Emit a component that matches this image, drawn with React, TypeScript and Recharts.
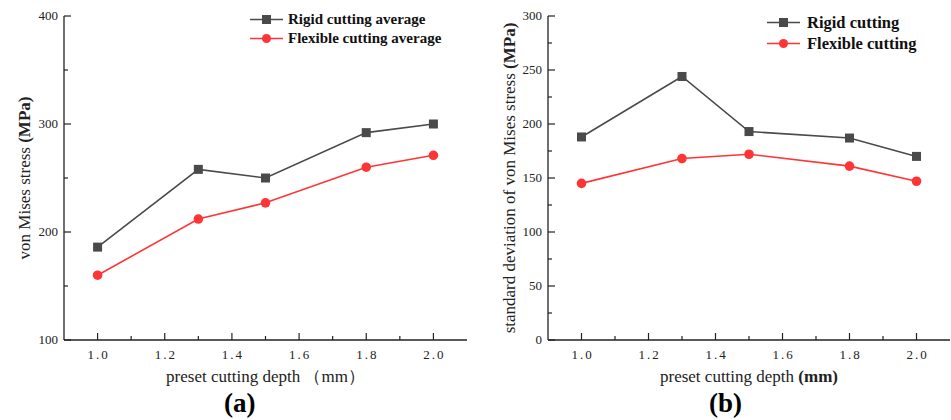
import React from "react";
import { LineChart, Line, XAxis, YAxis, Label } from "recharts";

const depths = [1.0, 1.3, 1.5, 1.8, 2.0];
const rigidAverage = [186, 258, 250, 292, 300];
const flexibleAverage = [160, 212, 227, 260, 271];
const rigidStd = [188, 244, 193, 187, 170];
const flexibleStd = [145, 168, 172, 161, 147];

const xTicks = [1.0, 1.1, 1.2, 1.3, 1.4, 1.5, 1.6, 1.7, 1.8, 1.9, 2.0];
const xMajor = [1.0, 1.2, 1.4, 1.6, 1.8, 2.0];
const yTicksA = [100, 150, 200, 250, 300, 350, 400];
const yMajorA = [100, 200, 300, 400];
const yTicksB = [0, 25, 50, 75, 100, 125, 150, 175, 200, 225, 250, 275, 300];
const yMajorB = [0, 50, 100, 150, 200, 250, 300];

const RIGID = "#4a4a4a";
const FLEX = "#ff3535";
const AXIS = "#222";
const FONT = "'Liberation Serif', 'DejaVu Serif', serif";

const dataA = depths.map((d, i) => ({ depth: d, rigid: rigidAverage[i], flexible: flexibleAverage[i] }));
const dataB = depths.map((d, i) => ({ depth: d, rigid: rigidStd[i], flexible: flexibleStd[i] }));

const isIn = (list: number[], v: number) => list.some((m) => Math.abs(m - v) < 1e-6);

const makeXTick = () => (props: any) => {
  const { x, y, payload } = props;
  const major = isIn(xMajor, payload.value);
  return (
    <g>
      <line x1={x} x2={x} y1={y} y2={y - (major ? 7 : 4)} stroke={AXIS} strokeWidth={1.2} />
      {major && (
        <text x={x + 1} y={y + 19} textAnchor="middle" fontFamily={FONT} fontSize={13} fill="#222" letterSpacing={2}>
          {payload.value.toFixed(1)}
        </text>
      )}
    </g>
  );
};

const makeYTick = (majors: number[]) => (props: any) => {
  const { x, y, payload } = props;
  const major = isIn(majors, payload.value);
  return (
    <g>
      <line x1={x} x2={x + (major ? 7 : 4)} y1={y} y2={y} stroke={AXIS} strokeWidth={1.2} />
      {major && (
        <text x={x - 6} y={y + 4} textAnchor="end" fontFamily={FONT} fontSize={13} fill="#222">
          {payload.value}
        </text>
      )}
    </g>
  );
};

const squareDot = (props: any) => {
  const { cx, cy, key } = props;
  return <rect key={key} x={cx - 4.5} y={cy - 4.5} width={9} height={9} fill={RIGID} />;
};

const yLabel = (plain: string, bold: string, lx: number) => (props: any) => {
  const vb = props.viewBox;
  const cy = vb.y + vb.height / 2;
  return (
    <text x={lx} y={cy} transform={`rotate(-90 ${lx} ${cy})`} textAnchor="middle" dominantBaseline="central" fontFamily={FONT} fontSize={17} fill="#222">
      <tspan>{plain}</tspan>
      <tspan fontWeight="bold">{bold}</tspan>
    </text>
  );
};

const xLabel = (plain: string, bold: string) => (props: any) => {
  const vb = props.viewBox;
  const cx = vb.x + vb.width / 2;
  return (
    <text x={cx} y={382} textAnchor="middle" fontFamily={FONT} fontSize={17} fill="#222">
      <tspan>{plain}</tspan>
      {bold && <tspan fontWeight="bold">{bold}</tspan>}
    </text>
  );
};

function LegendBox(props: { left: number; top: number; rowH: number; textX: number; size: number; items: { name: string; color: string; square: boolean }[] }) {
  return (
    <div style={{ position: "absolute", left: props.left, top: props.top, fontFamily: FONT, fontWeight: "bold", fontSize: props.size, color: "#111", whiteSpace: "nowrap" }}>
      {props.items.map((it, i) => (
        <div key={i} style={{ display: "flex", alignItems: "center", height: props.rowH }}>
          <svg width={props.textX} height={props.rowH}>
            <line x1={0} x2={33} y1={props.rowH / 2} y2={props.rowH / 2} stroke={it.color} strokeWidth={1.6} />
            {it.square ? (
              <rect x={12} y={props.rowH / 2 - 4.5} width={9} height={9} fill={it.color} />
            ) : (
              <circle cx={16.5} cy={props.rowH / 2} r={4.5} fill={it.color} />
            )}
          </svg>
          <span>{it.name}</span>
        </div>
      ))}
    </div>
  );
}

function Panel(props: {
  data: any[];
  width: number;
  margin: any;
  yDomain: number[];
  yTicks: number[];
  yMajor: number[];
  rigidName: string;
  flexName: string;
  yPlain: string;
  yLabelX: number;
  xPlain: string;
  xBold: string;
}) {
  return (
    <LineChart width={props.width} height={420} data={props.data} margin={props.margin}>
      <XAxis
        dataKey="depth"
        type="number"
        domain={[0.9, 2.1]}
        ticks={xTicks}
        interval={0}
        tickSize={0}
        tickMargin={0}
        tickLine={false}
        height={30}
        axisLine={{ stroke: AXIS, strokeWidth: 1.3 }}
        tick={makeXTick()}
      >
        <Label content={xLabel(props.xPlain, props.xBold)} />
      </XAxis>
      <YAxis
        type="number"
        domain={props.yDomain}
        ticks={props.yTicks}
        interval={0}
        tickSize={0}
        tickMargin={0}
        tickLine={false}
        width={40}
        axisLine={{ stroke: AXIS, strokeWidth: 1.3 }}
        tick={makeYTick(props.yMajor)}
      >
        <Label content={yLabel(props.yPlain, "(MPa)", props.yLabelX)} />
      </YAxis>
      <Line
        dataKey="rigid"
        name={props.rigidName}
        stroke={RIGID}
        strokeWidth={1.6}
        dot={squareDot}
        isAnimationActive={false}
      />
      <Line
        dataKey="flexible"
        name={props.flexName}
        stroke={FLEX}
        strokeWidth={1.6}
        dot={{ r: 4.8, fill: FLEX, stroke: FLEX, strokeWidth: 0 }}
        isAnimationActive={false}
      />
    </LineChart>
  );
}

export default function App() {
  return (
    <div style={{ position: "absolute", left: 0, top: 0, width: 951, height: 420, background: "#fff" }}>
      <div style={{ position: "absolute", left: 0, top: 0 }}>
        <Panel
          data={dataA}
          width={475}
          margin={{ top: 16, right: 8, bottom: 50, left: 24 }}
          yDomain={[100, 400]}
          yTicks={yTicksA}
          yMajor={yMajorA}
          rigidName="Rigid cutting average"
          flexName="Flexible cutting average"
          yPlain="von Mises stress "
          yLabelX={24}
          xPlain="preset cutting depth （mm）"
          xBold=""
        />
      </div>
      <div style={{ position: "absolute", left: 480, top: 0 }}>
        <Panel
          data={dataB}
          width={471}
          margin={{ top: 16, right: 1, bottom: 50, left: 28 }}
          yDomain={[0, 300]}
          yTicks={yTicksB}
          yMajor={yMajorB}
          rigidName="Rigid cutting"
          flexName="Flexible cutting"
          yPlain="standard deviation of von Mises stress "
          yLabelX={29}
          xPlain="preset cutting depth "
          xBold="(mm)"
        />
      </div>
      <LegendBox
        left={250}
        top={10}
        rowH={19}
        textX={38}
        size={15}
        items={[
          { name: "Rigid cutting average", color: RIGID, square: true },
          { name: "Flexible cutting average", color: FLEX, square: false },
        ]}
      />
      <LegendBox
        left={767}
        top={12}
        rowH={21}
        textX={40}
        size={16.5}
        items={[
          { name: "Rigid cutting", color: RIGID, square: true },
          { name: "Flexible cutting", color: FLEX, square: false },
        ]}
      />
      <div style={{ position: "absolute", left: 224, top: 388, fontFamily: FONT, fontWeight: "bold", fontSize: 27 }}>(a)</div>
      <div style={{ position: "absolute", left: 709, top: 388, fontFamily: FONT, fontWeight: "bold", fontSize: 27 }}>(b)</div>
    </div>
  );
}
